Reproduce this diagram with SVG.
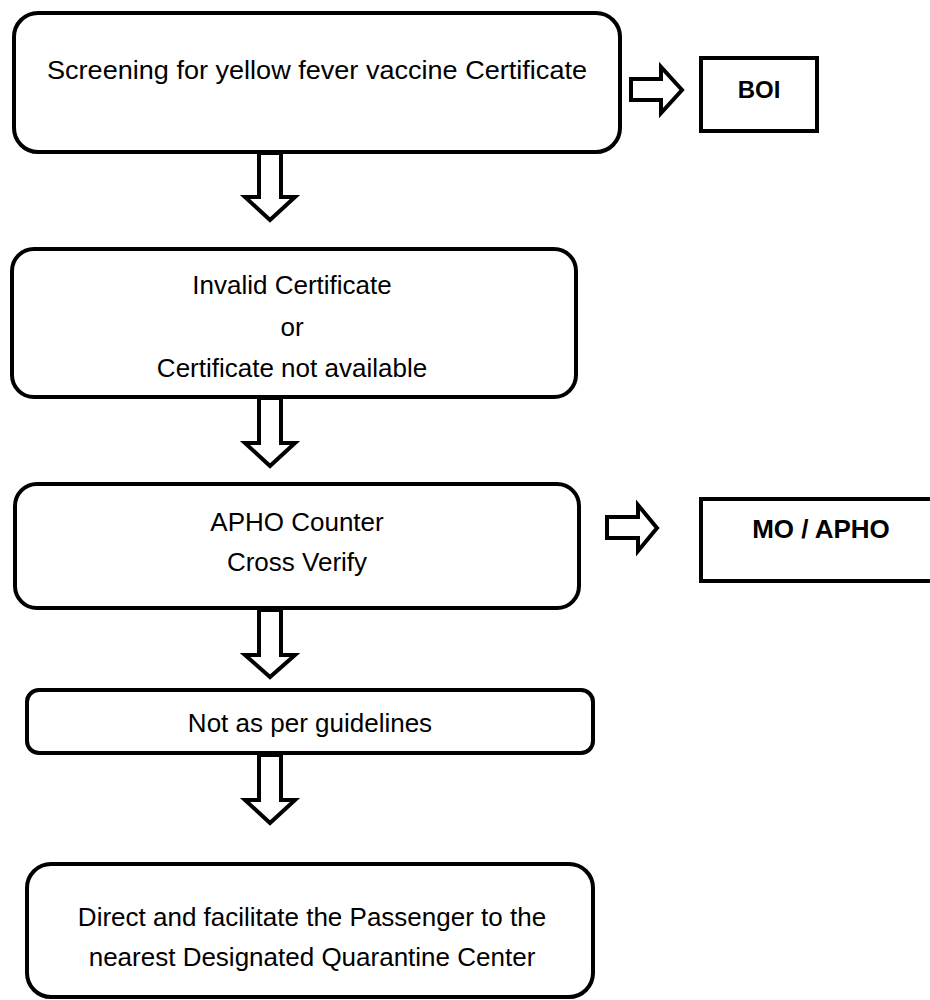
<svg xmlns="http://www.w3.org/2000/svg" width="930" height="1000" viewBox="0 0 930 1000">
<style>
.box{fill:#fff;stroke:#000;stroke-width:4}
.arr{fill:#fff;stroke:#000;stroke-width:4;stroke-linejoin:miter}
.t{font-family:"Liberation Sans",Arial,sans-serif;font-size:26px;fill:#000;text-anchor:middle}
.b{font-family:"Liberation Sans",Arial,sans-serif;font-size:24px;font-weight:bold;fill:#000;text-anchor:middle}
</style>
<rect width="930" height="1000" fill="#fff"/>
<g id="n1">
<rect class="box" x="14" y="13" width="606" height="139" rx="24"/>
<text class="t" x="317" y="79" textLength="540" lengthAdjust="spacingAndGlyphs">Screening for yellow fever vaccine Certificate</text>
</g>
<g id="boi">
<rect class="box" x="701" y="58" width="116" height="73"/>
<text class="b" x="759" y="98">BOI</text>
</g>
<g id="n2">
<rect class="box" x="12" y="249" width="564" height="148" rx="22"/>
<text class="t" x="292" y="294">Invalid Certificate</text>
<text class="t" x="292" y="336">or</text>
<text class="t" x="292" y="377">Certificate not available</text>
</g>
<g id="n3">
<rect class="box" x="15" y="484" width="564" height="124" rx="22"/>
<text class="t" x="297" y="531">APHO Counter</text>
<text class="t" x="297" y="571">Cross Verify</text>
</g>
<g id="mo">
<rect class="box" x="701" y="499" width="240" height="82"/>
<text class="b" x="821" y="538" style="font-size:26px">MO / APHO</text>
</g>
<g id="n4">
<rect class="box" x="27" y="690" width="566" height="63" rx="12"/>
<text class="t" x="310" y="732">Not as per guidelines</text>
</g>
<g id="n5">
<rect class="box" x="27" y="864" width="566" height="133" rx="24"/>
<text class="t" x="312" y="926">Direct and facilitate the Passenger to the</text>
<text class="t" x="312" y="966">nearest Designated Quarantine Center</text>
</g>
<g id="connectors">
<polygon class="arr" points="631,79 661,79 661,67 682,90 661,113 661,100 631,100"/>
<polygon class="arr" points="607,517 638,517 638,505 657,528 638,551 638,538 607,538"/>
<polygon class="arr" points="259,153 281,153 281,197 295,197 270,220 245,197 259,197"/>
<polygon class="arr" points="259,398 281,398 281,443 295,443 270,466 245,443 259,443"/>
<polygon class="arr" points="259,610 281,610 281,655 295,655 270,677 245,655 259,655"/>
<polygon class="arr" points="259,755 281,755 281,800 295,800 270,823 245,800 259,800"/>
</g>
</svg>
